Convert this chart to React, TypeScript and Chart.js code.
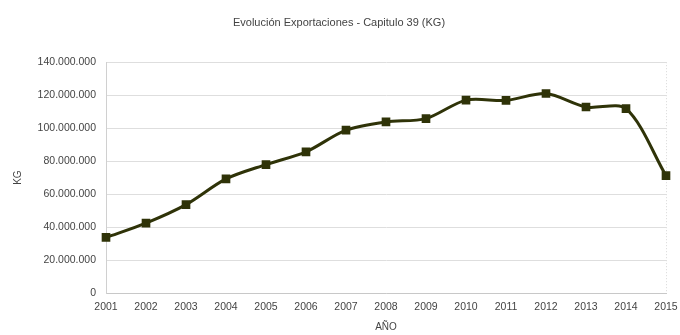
import React, { useEffect, useRef } from "react";
import { Chart, registerables } from "chart.js";

Chart.register(...registerables);

const years = ["2001","2002","2003","2004","2005","2006","2007","2008","2009","2010","2011","2012","2013","2014","2015"];
const exportsKg = [33700000, 42400000, 53600000, 69200000, 77900000, 85600000, 98800000, 103800000, 105800000, 117000000, 116800000, 121000000, 112800000, 111800000, 71200000];

const FONT = "'Liberation Sans', Arial, sans-serif";

function fmt(v: number): string {
  return Math.round(v).toString().replace(/\B(?=(\d{3})+(?!\d))/g, ".");
}

export default function App() {
  const ref = useRef<HTMLCanvasElement | null>(null);
  useEffect(() => {
    document.body.style.margin = "0";
    const ctx = ref.current!;
    const chart = new Chart(ctx, {
      type: "line",
      data: {
        labels: years,
        datasets: [
          {
            data: exportsKg,
            borderColor: "#2f3308",
            backgroundColor: "#2f3308",
            borderWidth: 3,
            pointStyle: "rect",
            pointRadius: 4,
            pointBackgroundColor: "#2f3308",
            pointBorderColor: "#2f3308",
            tension: 0.3,
          },
        ],
      },
      options: {
        animation: false,
        responsive: false,
        maintainAspectRatio: false,
        layout: { padding: { left: 12, right: 14, top: 10, bottom: 2 } },
        plugins: {
          legend: { display: false },
          tooltip: { enabled: false },
          title: {
            display: true,
            text: "Evolución Exportaciones - Capitulo 39 (KG)",
            color: "#444",
            font: { family: FONT, size: 11, weight: "normal" },
            padding: { top: 6, bottom: 33 },
          },
        },
        scales: {
          x: {
            offset: false,
            grid: {
              color: (c: any) => (c.index === years.length - 1 ? "#d8d8d8" : "rgba(0,0,0,0)"),
              drawTicks: false,
            },
            border: { color: "#c8c8c8", dash: [1, 2] },
            ticks: { color: "#444", font: { family: FONT, size: 10.5 }, padding: 8, maxRotation: 0, autoSkip: false },
            title: { display: true, text: "AÑO", color: "#444", font: { family: FONT, size: 10 }, padding: { top: 4, bottom: 0 } },
            afterFit: (s: any) => { s.height = 40; s.paddingRight = 0; s.paddingLeft = 0; },
          },
          y: {
            min: 0,
            max: 140000000,
            grid: { color: "#dedede", drawTicks: false },
            border: { color: "#d0d0d0" },
            ticks: {
              stepSize: 20000000,
              color: "#444",
              font: { family: FONT, size: 10.5 },
              padding: 10,
              callback: (v: any) => fmt(Number(v)),
            },
            title: { display: true, text: "KG", color: "#444", font: { family: FONT, size: 10 }, padding: 0 },
            afterFit: (s: any) => { s.width = 94; },
          },
        },
      },
    });
    return () => chart.destroy();
  }, []);
  return <canvas ref={ref} width={680} height={335} style={{ display: "block" }} />;
}
